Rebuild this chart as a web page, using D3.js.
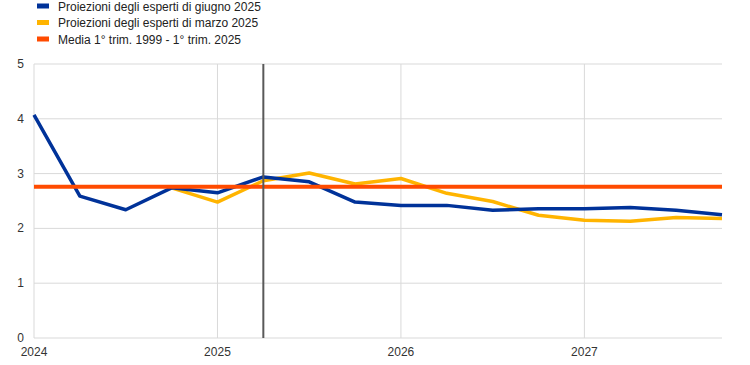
<!DOCTYPE html>
<html><head><meta charset="utf-8">
<script src="https://cdn.jsdelivr.net/npm/d3@7"></script>
<style>body{margin:0;background:#fff;} svg{display:block;font-family:"Liberation Sans",Arial,sans-serif;}</style>
</head><body><svg id="c" width="750" height="365"></svg>
<script>
const quarters = ["2024Q1","2024Q2","2024Q3","2024Q4","2025Q1","2025Q2","2025Q3","2025Q4","2026Q1","2026Q2","2026Q3","2026Q4","2027Q1","2027Q2","2027Q3","2027Q4"];
const june = [4.07,2.59,2.34,2.74,2.65,2.94,2.85,2.48,2.42,2.42,2.33,2.36,2.36,2.38,2.33,2.25];
const march = [null,null,null,2.74,2.48,2.87,3.01,2.81,2.91,2.64,2.49,2.24,2.15,2.13,2.20,2.18];
const average = 2.76;
const yTicks = [0,1,2,3,4,5];
const yearLabels = ["2024","2025","2026","2027"];
const legendLabels = ["Proiezioni degli esperti di giugno 2025","Proiezioni degli esperti di marzo 2025","Media 1° trim. 1999 - 1° trim. 2025"];
const colors = ["#003299","#FFB400","#FF4B00"];
const markerQuarter = "2025Q2";

const svg = d3.select("#c");
const L=34,R=722,T=64,B=338;
const x = d3.scaleLinear().domain([0,quarters.length-1]).range([L,R]);
const y = d3.scaleLinear().domain([0,5]).range([B,T]);

// grid
svg.append("g").selectAll("line").data(yTicks.filter(d=>d>0)).join("line")
 .attr("x1",L).attr("x2",R).attr("y1",d=>y(d)).attr("y2",d=>y(d))
 .attr("stroke","#d9d9d9").attr("stroke-width",1);
svg.append("g").selectAll("line").data(yearLabels.slice(1)).join("line")
 .attr("x1",d=>x(quarters.indexOf(d+"Q1"))).attr("x2",d=>x(quarters.indexOf(d+"Q1")))
 .attr("y1",T).attr("y2",B).attr("stroke","#d9d9d9").attr("stroke-width",1);
// axes lines
svg.append("line").attr("x1",L).attr("x2",L).attr("y1",T).attr("y2",B).attr("stroke","#d9d9d9");
svg.append("line").attr("x1",L).attr("x2",R).attr("y1",B).attr("y2",B).attr("stroke","#d9d9d9");

// y labels
svg.append("g").selectAll("text").data(yTicks).join("text")
 .attr("x",24).attr("y",d=>y(d)+4).attr("text-anchor","end")
 .attr("font-size",12).attr("fill","#333").text(d=>d);
// x labels
svg.append("g").selectAll("text").data(yearLabels).join("text")
 .attr("x",d=>x(quarters.indexOf(d+"Q1"))).attr("y",356).attr("text-anchor","middle")
 .attr("font-size",12).attr("fill","#333").text(d=>d);

const line = d3.line().defined(d=>d!=null).x((d,i)=>x(i)).y(d=>y(d));
svg.append("path").datum(march).attr("d",line).attr("fill","none").attr("stroke",colors[1]).attr("stroke-width",3.5).attr("stroke-linejoin","round");
svg.append("path").datum(june).attr("d",line).attr("fill","none").attr("stroke",colors[0]).attr("stroke-width",3.5).attr("stroke-linejoin","round");
svg.append("line").attr("x1",L).attr("x2",R).attr("y1",y(average)).attr("y2",y(average)).attr("stroke",colors[2]).attr("stroke-width",4);
// vertical marker
const mx = x(quarters.indexOf(markerQuarter));
svg.append("line").attr("x1",mx).attr("x2",mx).attr("y1",T).attr("y2",B).attr("stroke","#595959").attr("stroke-width",2);

// legend
const lg = svg.append("g").selectAll("g").data(legendLabels).join("g")
 .attr("transform",(d,i)=>`translate(37,${6+i*16.5})`);
lg.append("rect").attr("x",0).attr("y",-2.5).attr("width",12).attr("height",5).attr("fill",(d,i)=>colors[i]);
lg.append("text").attr("x",21).attr("y",4.5).attr("font-size",12).attr("fill","#222").text(d=>d);
</script></body></html>
